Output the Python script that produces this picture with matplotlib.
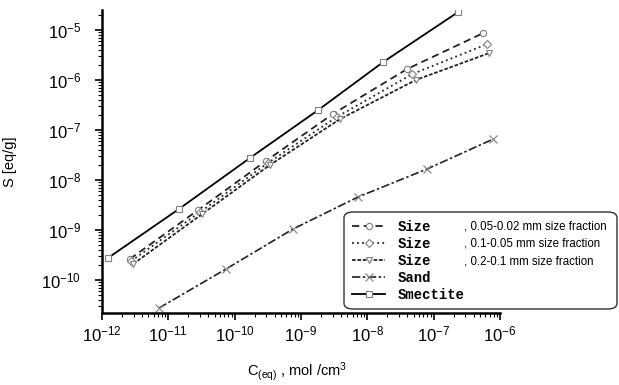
import numpy as np
import matplotlib
matplotlib.use("Agg")
import matplotlib.pyplot as plt
from matplotlib.patches import FancyBboxPatch

plt.rcParams['font.family'] = ['Liberation Sans', 'DejaVu Sans']
plt.rcParams['mathtext.fontset'] = 'custom'
plt.rcParams['mathtext.rm'] = 'Liberation Sans'
plt.rcParams['mathtext.it'] = 'Liberation Sans'

# data as log10 values
smectite_x = [-11.91, -10.84, -9.77, -8.74, -7.76, -6.63]
smectite_y = [-9.56, -8.58, -7.56, -6.60, -5.64, -4.64]

size1_x = [-11.58, -10.55, -9.53, -8.52, -7.40, -6.25]   # 0.05-0.02 mm
size1_y = [-9.58, -8.60, -7.62, -6.68, -5.78, -5.06]
size2_x = [-11.56, -10.52, -9.50, -8.46, -7.32, -6.19]   # 0.1-0.05 mm
size2_y = [-9.62, -8.64, -7.66, -6.74, -5.88, -5.28]
size3_x = [-11.53, -10.49, -9.47, -8.41, -7.27, -6.16]   # 0.2-0.1 mm
size3_y = [-9.68, -8.68, -7.70, -6.78, -6.00, -5.46]

sand_x = [-11.14, -10.13, -9.12, -8.14, -7.10, -6.10]
sand_y = [-10.56, -9.78, -8.98, -8.34, -7.78, -7.18]

names = ["Size", "Size", "Size", "Sand", "Smectite"]
suffixes = [", 0.05-0.02 mm size fraction", ", 0.1-0.05 mm size fraction",
            ", 0.2-0.1 mm size fraction", "", ""]

xticks = [1e-12, 1e-11, 1e-10, 1e-9, 1e-8, 1e-7, 1e-6]
yticks = [1e-10, 1e-9, 1e-8, 1e-7, 1e-6, 1e-5]

W, H = 619, 385
fig = plt.figure(figsize=(W / 100, H / 100), dpi=100)
fig.patch.set_facecolor('white')
ax = fig.add_axes([102 / W, (H - 313) / H, (500 - 102) / W, (313 - 10) / H])

mk = dict(markerfacecolor='white', markeredgecolor='#808080', markeredgewidth=0.8)
ax.plot(10.0 ** np.array(size1_x), 10.0 ** np.array(size1_y), color='#222222', lw=1.3,
        linestyle=(0, (4, 2.5)), marker='o', ms=4.5, label=names[0], **mk)
ax.plot(10.0 ** np.array(size2_x), 10.0 ** np.array(size2_y), color='#222222', lw=1.3,
        linestyle=(0, (1, 1.8)), marker='D', ms=4, label=names[1], **mk)
ax.plot(10.0 ** np.array(size3_x), 10.0 ** np.array(size3_y), color='#222222', lw=1.3,
        linestyle=(0, (2, 1)), marker='v', ms=5, label=names[2], **mk)
ax.plot(10.0 ** np.array(sand_x), 10.0 ** np.array(sand_y), color='#222222', lw=1.2,
        linestyle=(0, (5, 1.5, 1.5, 1.5)), marker='x', ms=5.5, label=names[3], **mk)
ax.plot(10.0 ** np.array(smectite_x), 10.0 ** np.array(smectite_y), color='black', lw=1.3,
        linestyle='-', marker='s', ms=5, label=names[4], **mk)

ax.set_xscale('log')
ax.set_yscale('log')
ax.set_xlim(1e-12, 1e-6)
ax.set_ylim(10 ** -10.66, 10 ** -4.6)
ax.xaxis.set_major_locator(matplotlib.ticker.FixedLocator(xticks))
ax.yaxis.set_major_locator(matplotlib.ticker.FixedLocator(yticks))

for s in ['top', 'right']:
    ax.spines[s].set_visible(False)
for s in ['left', 'bottom']:
    ax.spines[s].set_linewidth(1.8)
ax.tick_params(which='major', length=5, width=1.2, labelsize=12, direction='out')
ax.tick_params(axis='y', which='major', pad=10)
ax.tick_params(which='minor', length=3, width=0.8, direction='out')
for axis in [ax.xaxis, ax.yaxis]:
    axis.set_minor_locator(matplotlib.ticker.LogLocator(base=10, subs=np.arange(2, 10), numticks=20))
    axis.set_minor_formatter(matplotlib.ticker.NullFormatter())

ax.set_ylabel("S [eq/g]", fontsize=10.5)
ax.yaxis.set_label_coords(-85 / 398, 0.5)
ax.set_xlabel(r"C$_{\rm (eq)}$ , mol /cm$^3$", fontsize=10.5)
ax.xaxis.set_label_coords(0.49, -47 / 303)

# legend box
box = FancyBboxPatch((344 / W, (H - 309) / H), (617 - 344) / W, (309 - 212) / H,
                     boxstyle="round,pad=0,rounding_size=0.015", transform=fig.transFigure,
                     facecolor='white', edgecolor='#333333', lw=1.0, zorder=5)
fig.patches.append(box)

handles, labels = ax.get_legend_handles_labels()
leg = fig.legend(handles, labels, loc='upper left', bbox_to_anchor=(345 / W, (H - 213) / H),
                 frameon=False, handlelength=2.4,
                 handletextpad=0.9, labelspacing=0.22, borderpad=0,
                 prop={'family': 'Liberation Mono', 'weight': 'bold', 'size': 10})
leg.set_zorder(6)

fig.canvas.draw()
r = fig.canvas.get_renderer()
for t, suf in zip(leg.get_texts(), suffixes):
    if not suf:
        continue
    bb = t.get_window_extent(r)
    y = (bb.y0 + bb.y1) / 2
    fig.text(464 / W, y / H, suf, fontsize=8.3, va='center', ha='left', zorder=7)

fig.savefig("out.png", dpi=100)
